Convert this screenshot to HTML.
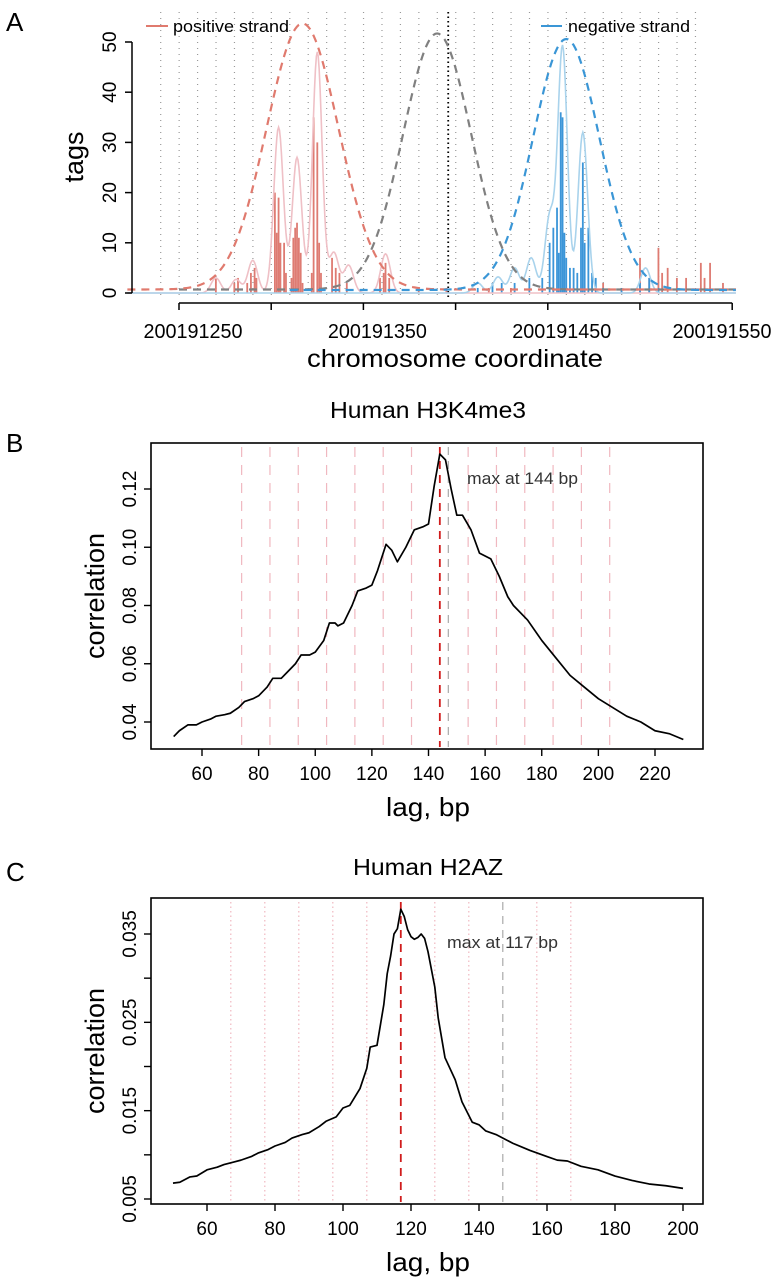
<!DOCTYPE html>
<html><head><meta charset="utf-8"><style>
body{margin:0;background:#fff;}
svg text{font-family:"Liberation Sans",sans-serif;}
</style></head><body>
<svg id="s" width="773" height="1280" xmlns="http://www.w3.org/2000/svg">
<text x="6" y="31" font-size="26">A</text>
<text x="6" y="452" font-size="26">B</text>
<text x="6" y="881" font-size="26">C</text>
<g id="pa"></g>
<g id="pb"></g>
<g id="pc"></g>
</svg>
<script>
// ---- Panel A data (position = coordinate - 200191200) ----
const aXTicks=[250,300,350,400,450,500,550];
const aXLabels=["200191250","","200191350","","200191450","","200191550"];
const aYTicks=[0,10,20,30,40,50];
const posBarPos=[270,280,282,287,289,291,292,302,303,304,305,307,308,311,312,313,314,315,316,317,322,323,325,326,327,333,335,337,341,359,361,362,364,380,395,418,430,460,480,490,500,505,510,512,515,520,525,533,535,538,545];
const posBarVal=[3,2,3,2,4,5,3,20,12,19,10,10,4,3,11,13,14,11,8,2,4,35,30,10,4,7,5,4,2,3,4,6,3,1,1,1,1,1,2,1,7,3,9,4,5,3,3,6,3,6,2];
const negBarPos=[412,420,425,432,440,447,451,453,455,456,457,458,459,460,462,464,466,468,469,470,472,474,476,480,490,500,505,510];
const negBarVal=[1,2,2,2,3,3,10,13,17,8,36,35,12,7,5,5,4,13,26,10,13,4,3,1,1,2,3,1];
const posPeakPos=[270,281,290,304,314,325,334,342,362];
const posPeakVal=[3,2.7,6.5,33,27,48,8,5.5,7.8];
const negPeakPos=[412,423,432,441,451,458,469,503];
const negPeakVal=[2,3.2,5,7,15,49,32,5];
const posEnv=[317,53,19.5]; // center,height,sigma
const negEnv=[460,50,18];
const midEnv=[390,51,18.5];
const centerLine=[396];

// ---- Panel B data ----
const bLag=[50,52,55,58,60,63,65,68,70,73,75,78,80,83,85,88,90,93,95,98,100,103,105,107,108,110,113,115,118,120,122,125,127,129,132,135,138,140,142,144,146,148,150,152,155,158,160,162,165,168,170,175,180,185,190,195,200,205,210,215,220,225,230];
const bCor=[.035,.037,.039,.039,.040,.041,.042,.0425,.043,.045,.047,.048,.049,.052,.055,.055,.057,.060,.063,.063,.064,.068,.074,.074,.073,.074,.080,.085,.086,.087,.092,.101,.099,.095,.100,.106,.107,.108,.121,.132,.130,.120,.111,.111,.106,.098,.097,.096,.090,.083,.080,.075,.068,.062,.056,.052,.048,.045,.042,.040,.037,.036,.034];
const bXTicks=[60,80,100,120,140,160,180,200,220];
const bYTicks=[0.04,0.06,0.08,0.10,0.12];
const bYLabels=["0.04","0.06","0.08","0.10","0.12"];
const bGuides=[74,84,94,104,114,124,134,154,164,174,184,194,204];

// ---- Panel C data ----
const cLag=[50,52,55,57,60,63,65,68,70,73,75,78,80,83,85,88,90,93,95,98,100,102,105,107,108,110,112,113,114,115,116,117,118,119,120,121,122,123,124,125,127,128,130,133,135,138,140,142,145,150,155,160,163,166,170,175,180,185,190,195,200];
const cCor=[.0068,.0069,.0075,.0076,.0083,.0086,.0089,.0092,.0094,.0098,.0102,.0106,.011,.0114,.0119,.0123,.0125,.0132,.0138,.0143,.0153,.0156,.0175,.0198,.0222,.0224,.0270,.0305,.0325,.0350,.0356,.0378,.0370,.0355,.0347,.0344,.0346,.0350,.0345,.0330,.0290,.0255,.0210,.0185,.0160,.0137,.0134,.0127,.0123,.0113,.0105,.0098,.0094,.0093,.0087,.0083,.0076,.0071,.0067,.0065,.0062];
const cXTicks=[60,80,100,120,140,160,180,200];
const cYTicks=[0.005,0.015,0.025,0.035];
const cYMinor=[0.01,0.02,0.03];
const cGuides=[67,77,87,97,107,127,137,157,167];

const NS="http://www.w3.org/2000/svg";
function mk(parent,tag,attrs,text){const e=document.createElementNS(NS,tag);for(const k in attrs)e.setAttribute(k,attrs[k]);if(text!==undefined)e.textContent=text;parent.appendChild(e);return e;}
function pathFrom(xs,ys){return xs.map((v,i)=>(i?'L':'M')+v.toFixed(2)+' '+ys[i].toFixed(2)).join(' ');}

// ===== Panel A =====
(function(){
const g=document.getElementById('pa');
const X=v=>179+(v-250)*1.844, Y=v=>293-v*5.02;
for(let k=0;k<30;k++){const x=160.7+k*18.44;
 const l=mk(g,'line',{x1:x,x2:x,y1:12,y2:296,stroke:'#999','stroke-width':1.2,'stroke-dasharray':'1 5'});
 
 }
const cl=mk(g,'line',{x1:X(centerLine[0]),x2:X(centerLine[0]),y1:12,y2:298,stroke:'#000','stroke-width':1.8,'stroke-dasharray':'1.5 3'});


posBarPos.forEach((p,i)=>{const b=mk(g,'rect',{x:X(p)-0.9,y:Y(posBarVal[i]),width:1.8,height:posBarVal[i]*5.02,fill:'#de7b72'});
 
 });
negBarPos.forEach((p,i)=>{const b=mk(g,'rect',{x:X(p)-0.9,y:Y(negBarVal[i]),width:1.8,height:negBarVal[i]*5.02,fill:'#3b95d8'});
 
 });
function dens(pp,pv,s){const xs=[],ys=[];for(let v=222;v<=552;v+=0.5){let t=0;pp.forEach((p,i)=>{t+=pv[i]*Math.exp(-((v-p)**2)/(2*s*s));});xs.push(X(v));ys.push(Y(t));}return pathFrom(xs,ys);}
const pd=mk(g,'path',{d:dens(posPeakPos,posPeakVal,2.6),fill:'none',stroke:'#efc0c6','stroke-width':1.6});


const nd=mk(g,'path',{d:dens(negPeakPos,negPeakVal,2.6),fill:'none',stroke:'#a9d3ec','stroke-width':1.6});


function env(e,base,from){const xs=[],ys=[];for(let v=from;v<=552;v+=1){xs.push(X(v));ys.push(Y(base+e[1]*Math.exp(-((v-e[0])**2)/(2*e[2]*e[2]))));}return pathFrom(xs,ys);}
const ge=mk(g,'path',{d:env(midEnv,0.7,250),fill:'none',stroke:'#808080','stroke-width':2.2,'stroke-dasharray':'8 6'});


const re=mk(g,'path',{d:env(posEnv,0.7,222),fill:'none',stroke:'#e07a6e','stroke-width':2.2,'stroke-dasharray':'8 6'});


const be=mk(g,'path',{d:env(negEnv,0.6,310),fill:'none',stroke:'#3a96d6','stroke-width':2.2,'stroke-dasharray':'8 6'});


mk(g,'line',{x1:132,x2:132,y1:Y(0),y2:Y(50),stroke:'#000','stroke-width':1.5});
aYTicks.forEach(t=>{mk(g,'line',{x1:125,x2:132,y1:Y(t),y2:Y(t),stroke:'#000','stroke-width':1.5});
 const tl=mk(g,'text',{x:0,y:0,'font-size':19,'text-anchor':'middle',transform:`translate(116 ${Y(t)}) rotate(-90)`},String(t));
 
 });
mk(g,'text',{x:0,y:0,'font-size':27,'text-anchor':'middle',transform:'translate(83 157) rotate(-90)',},'tags');
mk(g,'line',{x1:X(250),x2:X(550),y1:303,y2:303,stroke:'#000','stroke-width':1.5});
aXTicks.forEach((t,i)=>{mk(g,'line',{x1:X(t),x2:X(t),y1:303,y2:310,stroke:'#000','stroke-width':1.5});
 if(aXLabels[i]){const cx=Math.min(X(t)+14,722);
 const tl=mk(g,'text',{x:cx,y:338,'font-size':20,'text-anchor':'middle',textLength:99,lengthAdjust:'spacingAndGlyphs'},aXLabels[i]);
 
 }});
mk(g,'text',{x:455,y:367,'font-size':25,'text-anchor':'middle',textLength:296,lengthAdjust:'spacingAndGlyphs',},'chromosome coordinate');
mk(g,'line',{x1:146,x2:168,y1:26,y2:26,stroke:'#e07a6e','stroke-width':2});
mk(g,'text',{x:173,y:32,'font-size':17,textLength:116,lengthAdjust:'spacingAndGlyphs',},'positive strand');
mk(g,'line',{x1:541,x2:562,y1:26,y2:26,stroke:'#3a96d6','stroke-width':2});
mk(g,'text',{x:568,y:32,'font-size':17,textLength:122,lengthAdjust:'spacingAndGlyphs',},'negative strand');
})();

// ===== Correlation panels =====
function corrPanel(gid,o){
const g=document.getElementById(gid);
const X=v=>o.x0+(v-o.xv0)*o.xs, Y=v=>o.y0-(v-o.yv0)*o.ys;
o.guides.forEach(v=>{const l=mk(g,'line',{x1:X(v),x2:X(v),y1:o.top+4,y2:o.bot-2,stroke:'#f0b8c0','stroke-width':1.2,'stroke-dasharray':o.gdash});
 
 });
const gl=mk(g,'line',{x1:X(o.grey),x2:X(o.grey),y1:o.top+4,y2:o.bot-2,stroke:'#aaa','stroke-width':1.2,'stroke-dasharray':'8 6'});


const rl=mk(g,'line',{x1:X(o.max),x2:X(o.max),y1:o.top+4,y2:o.bot-2,stroke:'#d01c1c','stroke-width':1.8,'stroke-dasharray':'8 6'});


const c=mk(g,'path',{d:pathFrom(o.lag.map(X),o.cor.map(Y)),fill:'none',stroke:'#000','stroke-width':1.7,'stroke-linejoin':'round'});


mk(g,'rect',{x:151,y:o.top,width:552,height:o.bot-o.top,fill:'none',stroke:'#000','stroke-width':1.6,});
o.xt.forEach(t=>{mk(g,'line',{x1:X(t),x2:X(t),y1:o.bot,y2:o.bot+7,stroke:'#000','stroke-width':1.4});
 const tl=mk(g,'text',{x:X(t),y:o.bot+31,'font-size':19,'text-anchor':'middle'},String(t));
 
 });
o.yt.forEach((t,i)=>{mk(g,'line',{x1:144,x2:151,y1:Y(t),y2:Y(t),stroke:'#000','stroke-width':1.4});
 const tl=mk(g,'text',{x:0,y:0,'font-size':19,'text-anchor':'middle',transform:`translate(136 ${Y(t)}) rotate(-90)`},o.yl[i]);
 
 });
(o.ym||[]).forEach(t=>{mk(g,'line',{x1:144,x2:151,y1:Y(t),y2:Y(t),stroke:'#000','stroke-width':1.4});});
mk(g,'text',{x:0,y:0,'font-size':27,'text-anchor':'middle',transform:`translate(104 ${(o.top+o.bot)/2}) rotate(-90)`,},'correlation');
mk(g,'text',{x:428,y:o.bot+67,'font-size':26,'text-anchor':'middle',textLength:84,lengthAdjust:'spacingAndGlyphs',},'lag, bp');
mk(g,'text',{x:428,y:o.title,'font-size':23,'text-anchor':'middle',textLength:o.tl,lengthAdjust:'spacingAndGlyphs',},o.name);
mk(g,'text',{x:o.ax,y:o.ay,'font-size':17,'fill':'#333',textLength:111,lengthAdjust:'spacingAndGlyphs',},o.ann);
}
corrPanel('pb',{x0:202,xv0:60,xs:(655-202)/160,y0:722,yv0:0.04,ys:(722-489)/0.08,top:443,bot:749,
 lag:bLag,cor:bCor,xt:bXTicks,yt:bYTicks,yl:bYLabels,guides:bGuides,gdash:'10 8',grey:147,max:144,
 name:'Human H3K4me3',tl:196,title:418,ann:'max at 144 bp',ax:467,ay:484});
corrPanel('pc',{x0:207,xv0:60,xs:(683-207)/140,y0:1199,yv0:0.005,ys:(1199-934)/0.03,top:898,bot:1204,
 lag:cLag,cor:cCor,xt:cXTicks,yt:cYTicks,yl:["0.005","0.015","0.025","0.035"],ym:cYMinor,guides:cGuides,gdash:'1.5 3',grey:147,max:117,
 name:'Human H2AZ',tl:150,title:875,ann:'max at 117 bp',ax:447,ay:948});
</script>
</body></html>
